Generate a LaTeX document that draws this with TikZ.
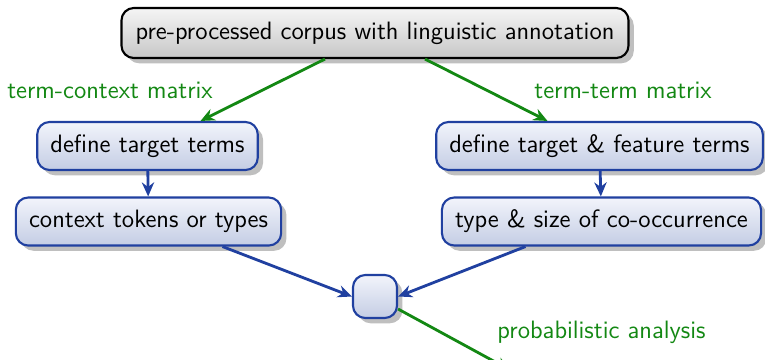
\documentclass[tikz,border=0pt]{standalone}
\usepackage{xcolor}
\usepackage{tikz}
\usetikzlibrary{arrows.meta,shadows,positioning,calc}

\definecolor{boxblue}{RGB}{32,64,160}
\definecolor{boxtop}{RGB}{242,244,251}
\definecolor{boxbottom}{RGB}{196,205,228}
\definecolor{arrgreen}{RGB}{19,136,19}

\begin{document}
\begin{tikzpicture}[x=1cm,y=1cm,
		every node/.style={font=\sffamily\fontsize{14.3}{17}\selectfont},
		stepbox/.style={draw=boxblue, line width=1.2pt, rounded corners=7pt, top color=boxtop, bottom color=boxbottom, drop shadow={shadow xshift=3pt, shadow yshift=-3pt, fill=black!25, opacity=1}, inner xsep=7.5pt, inner ysep=4pt, minimum height=0.96cm},
		topbox/.style={draw=black, line width=1.2pt, rounded corners=7pt, top color=black!4, bottom color=black!22, drop shadow={shadow xshift=3pt, shadow yshift=-3pt, fill=black!25, opacity=1}, inner xsep=8pt, inner ysep=4pt, minimum height=1cm},
		greenarr/.style={draw=arrgreen, line width=1.6pt, -{Stealth[length=8pt,width=7pt]}},
		bluearr/.style={draw=boxblue, line width=1.6pt, -{Stealth[length=8pt,width=7pt]}},
		lbl/.style={text=arrgreen}]
		\useasboundingbox (0,0) rectangle (15.3,-7.18);

		\node[topbox] (corpus) at (7.5,-0.66) {pre-processed corpus with linguistic annotation};

		\node[stepbox] (target) at (2.95,-2.92) {define target terms};
		\node[stepbox] (feature) at (11.99,-2.92) {define target \& feature terms};
		\node[stepbox] (context) at (2.97,-4.43) {context tokens or types};
		\node[stepbox] (cooc) at (12.03,-4.43) {type \& size of co-occurrence};
		\node[stepbox, minimum width=0.88cm, minimum height=0.86cm, inner sep=0pt] (merge) at (7.5,-5.93) {};

		\node[lbl] (tcm) at (2.2,-1.8) {term-context matrix};
		\node[lbl] (ttm) at (12.46,-1.8) {term-term matrix};
		\node[lbl] (prob) at (12.03,-6.64) {probabilistic analysis};

		\coordinate (out) at (10.2,-7.4);

		\draw[greenarr] ($(corpus.south)+(-1,0)$) -- ($(target.north)+(1.06,0)$);
		\draw[greenarr] ($(corpus.south)+(1,0)$) -- ($(feature.north)+(-1.04,0)$);
		\draw[bluearr] (target) -- (context);
		\draw[bluearr] (feature) -- (cooc);
		\draw[bluearr] ($(context.south)+(1.48,0)$) -- (merge.west);
		\draw[bluearr] ($(cooc.south)+(-1.52,0)$) -- (merge.east);
		\draw[greenarr] ($(merge.east)+(0,-0.25)$) -- (out);
	\end{tikzpicture}
\end{document}
